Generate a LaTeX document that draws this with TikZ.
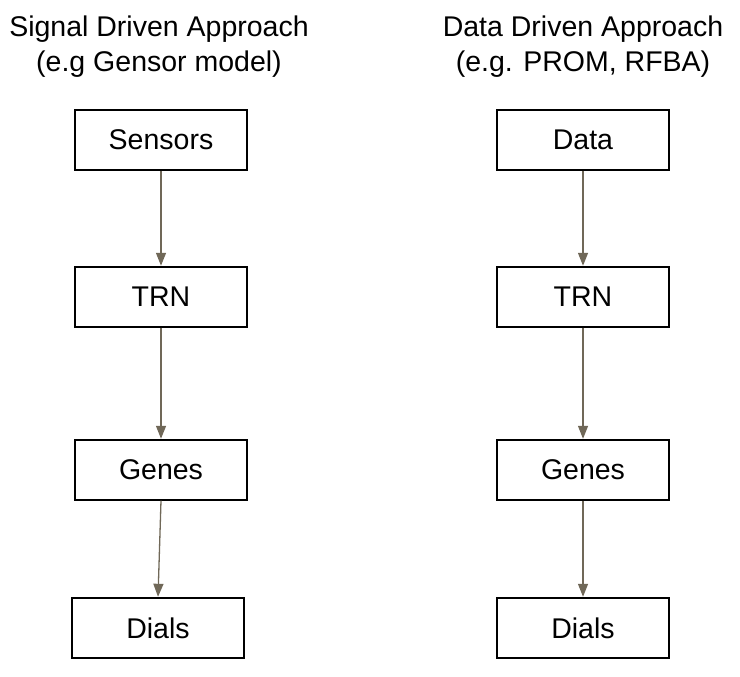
\documentclass[tikz,border=0pt]{standalone}
\usepackage{fontspec}
\setmainfont{Liberation Sans}
\usetikzlibrary{arrows.meta, positioning}
\definecolor{flowgray}{RGB}{112, 104, 88}

\tikzset{
  stagebox/.style={draw=black, line width=1.2pt, minimum width=172pt, minimum height=60pt, inner sep=0pt, font=\fontsize{28.5}{33}\selectfont},
  headtext/.style={align=center, inner sep=0pt, font=\fontsize{28.5}{35}\selectfont},
  flow/.style={draw=flowgray, line width=1.3pt, -{Triangle[length=13pt, width=10pt]}, shorten >=0.6pt}
}

\begin{document}
\begin{tikzpicture}[x=1pt, y=-1pt]
  \useasboundingbox (0,0) rectangle (740,677);

  % Headings
  \node[headtext] (signalhead) at (159, 47) {Signal Driven Approach\\(e.g Gensor model)};
  \node[headtext] (datahead) at (583, 47) {Data Driven Approach\\(e.g. PROM, RFBA)};

  % Signal driven column
  \node[stagebox] (sensors) at (161, 140) {Sensors};
  \node[stagebox] (trnleft) at (161, 297) {TRN};
  \node[stagebox] (genesleft) at (161, 470) {Genes};
  \node[stagebox] (dialsleft) at (158, 628) {Dials};

  % Data driven column
  \node[stagebox] (data) at (583, 140) {Data};
  \node[stagebox] (trnright) at (583, 297) {TRN};
  \node[stagebox] (genesright) at (583, 470) {Genes};
  \node[stagebox] (dialsright) at (583, 628) {Dials};

  % Arrows
  \draw[flow] (sensors) -- (trnleft);
  \draw[flow] (trnleft) -- (genesleft);
  \draw[flow] (genesleft.south) -- (dialsleft.north);
  \draw[flow] (data) -- (trnright);
  \draw[flow] (trnright) -- (genesright);
  \draw[flow] (genesright) -- (dialsright);
\end{tikzpicture}
\end{document}
